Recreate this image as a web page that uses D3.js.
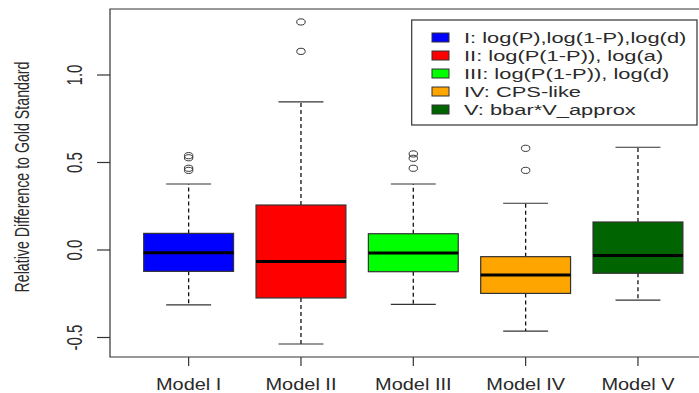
<!DOCTYPE html>
<html><head><meta charset="utf-8">
<script src="https://cdn.jsdelivr.net/npm/d3@7"></script>
<style>
html,body{margin:0;padding:0;background:#fff;overflow:hidden}
text{font-family:"Liberation Sans",Arial,sans-serif;fill:#2a2a2a}
</style></head>
<body>
<svg id="c" width="699" height="393"></svg>
<script>
// ---- data ----
const categories = ["Model I","Model II","Model III","Model IV","Model V"];
const legendLabels = ["I: log(P),log(1-P),log(d)","II: log(P(1-P)), log(a)","III: log(P(1-P)), log(d)","IV: CPS-like","V: bbar*V_approx"];
const colors = ["#0000FF","#FF0000","#00FF00","#FFA500","#006400"];
const lowerWhisker = [-0.313,-0.537,-0.311,-0.463,-0.286];
const q1 = [-0.122,-0.274,-0.124,-0.248,-0.133];
const median = [-0.015,-0.065,-0.017,-0.143,-0.032];
const q3 = [0.095,0.257,0.093,-0.038,0.160];
const upperWhisker = [0.377,0.846,0.377,0.267,0.587];
const outliers = [[0.539,0.527,0.467,0.455],[1.303,1.135],[0.549,0.524,0.467],[0.581,0.455],[]];
const yTicks = [-0.5,0.0,0.5,1.0];
const yTickLabels = ["-0.5","0.0","0.5","1.0"];
const yTitle = "Relative Difference to Gold Standard";

// ---- layout ----
const svg = d3.select("#c");
const L = 110, T = 9, B = 357, R = 716.6;
const x = d3.scaleLinear().domain([0.3,5.7]).range([L,R]);
const y = d3.scaleLinear().domain([-0.6114,1.3771]).range([B,T]);
const bw = x(1.4)-x(1), cw = x(1.2)-x(1);
const frame = "#333";

// boxes
categories.forEach((c,i)=>{
  const cx = x(i+1);
  const g = svg.append("g");
  g.append("line").attr("x1",cx).attr("x2",cx).attr("y1",y(q3[i])).attr("y2",y(upperWhisker[i]))
    .attr("stroke","#111").attr("stroke-width",1.3).attr("stroke-dasharray","4,3");
  g.append("line").attr("x1",cx).attr("x2",cx).attr("y1",y(q1[i])).attr("y2",y(lowerWhisker[i]))
    .attr("stroke","#111").attr("stroke-width",1.3).attr("stroke-dasharray","4,3");
  [upperWhisker[i],lowerWhisker[i]].forEach(v=>{
    g.append("line").attr("x1",cx-cw).attr("x2",cx+cw).attr("y1",y(v)).attr("y2",y(v))
      .attr("stroke","#333").attr("stroke-width",1.2);
  });
  g.append("rect").attr("x",cx-bw).attr("width",2*bw).attr("y",y(q3[i])).attr("height",y(q1[i])-y(q3[i]))
    .attr("fill",colors[i]).attr("stroke","#333").attr("stroke-width",1.2);
  g.append("line").attr("x1",cx-bw).attr("x2",cx+bw).attr("y1",y(median[i])).attr("y2",y(median[i]))
    .attr("stroke","#000").attr("stroke-width",3);
  outliers[i].forEach(v=>{
    g.append("ellipse").attr("cx",cx).attr("cy",y(v)).attr("rx",4.2).attr("ry",3.1)
      .attr("fill","none").attr("stroke","#333").attr("stroke-width",1);
  });
});

// frame
svg.append("path").attr("d",`M${R},${T}H${L}V${B}H${R}`).attr("fill","none").attr("stroke",frame).attr("stroke-width",1.2);

// y axis
yTicks.forEach((v,j)=>{
  svg.append("line").attr("x1",L-13).attr("x2",L).attr("y1",y(v)).attr("y2",y(v)).attr("stroke",frame).attr("stroke-width",1.2);
  svg.append("text").attr("transform",`translate(82,${y(v)}) rotate(-90) scale(1,1.47)`)
    .attr("text-anchor","middle").attr("font-size",15).text(yTickLabels[j]);
});
svg.append("text").attr("transform",`translate(28.5,177) rotate(-90) scale(1,1.47)`)
  .attr("text-anchor","middle").attr("font-size",14.2).text(yTitle);

// x axis
categories.forEach((c,i)=>{
  const cx = x(i+1);
  svg.append("line").attr("x1",cx).attr("x2",cx).attr("y1",B).attr("y2",B+9).attr("stroke",frame).attr("stroke-width",1.2);
  svg.append("text").attr("transform",`translate(${cx},389.5) scale(1.21,1)`)
    .attr("text-anchor","middle").attr("font-size",16.5).text(c);
});

// legend
const lg = svg.append("g");
lg.append("rect").attr("x",411.7).attr("y",20).attr("width",285.3).attr("height",105)
  .attr("fill","#fff").attr("stroke",frame).attr("stroke-width",1.2);
legendLabels.forEach((t,i)=>{
  const cy = 37.5 + i*18;
  lg.append("rect").attr("x",432).attr("y",cy-4.5).attr("width",17).attr("height",9)
    .attr("fill",colors[i]).attr("stroke","#333").attr("stroke-width",1);
  lg.append("text").attr("transform",`translate(464,${cy+5.5}) scale(1.42,1)`)
    .attr("font-size",15.4).text(t);
});
</script>
</body></html>
